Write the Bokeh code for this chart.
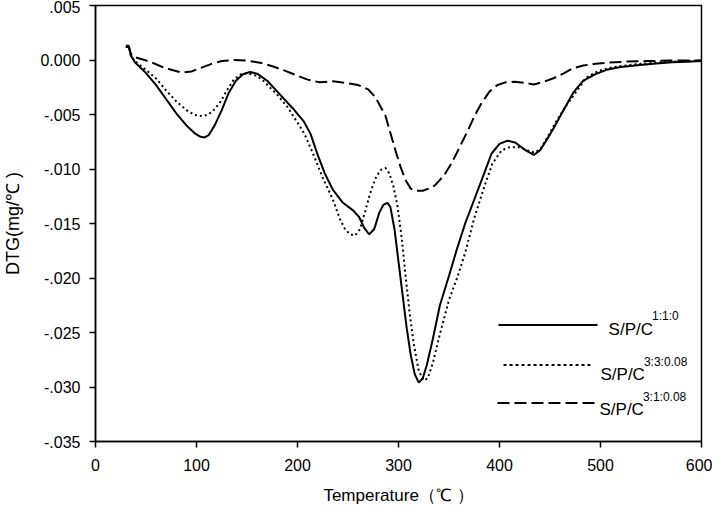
from bokeh.plotting import figure
from bokeh.models import Range1d, FixedTicker, Label
from bokeh.embed import file_html
from bokeh.resources import INLINE

# ---------------- data, DTG in 1e-3 mg/℃ ----------------
t_a = [30, 33, 35, 39, 50, 60, 70, 80, 90, 98, 104, 108, 112, 118, 125, 132, 139, 146,
       153, 160, 170, 180, 195, 206, 213, 220, 227, 235, 245, 255, 261, 266, 271, 276,
       281, 285, 289, 292, 296, 300, 304, 308, 312, 316, 320, 324, 328, 334, 341, 350,
       358, 366, 375, 384, 392, 400, 408, 416, 426, 434, 440, 447, 454, 464, 473, 483,
       495, 506, 520, 539, 555, 571, 585, 600]
dtg_a = [1.3, 1.3, 0.4, -0.2, -1.2, -2.3, -3.6, -4.9, -6.0, -6.7, -7.05, -7.1, -6.9, -6.0,
         -4.6, -3.0, -1.9, -1.3, -1.1, -1.25, -1.9, -2.9, -4.4, -5.6, -6.8, -8.7, -10.4,
         -11.9, -13.1, -13.8, -14.4, -15.4, -16.0, -15.5, -14.0, -13.3, -13.1, -13.5, -15.5,
         -18.5, -21.5, -24.5, -27.0, -28.8, -29.6, -29.2, -28.0, -25.6, -22.5, -19.8, -17.3,
         -15.0, -12.8, -10.6, -8.6, -7.7, -7.4, -7.6, -8.3, -8.7, -8.3, -7.3, -6.2, -4.5,
         -3.0, -1.9, -1.3, -0.9, -0.65, -0.45, -0.32, -0.2, -0.15, -0.1]

t_b = [30, 33, 35, 39, 50, 60, 70, 80, 90, 98, 106, 112, 118, 124, 130, 137, 144, 150,
       158, 165, 180, 190, 199, 207, 215, 225, 235, 242, 247, 252, 257, 262, 267, 272,
       277, 282, 287, 291, 295, 299, 303, 307, 311, 315, 320, 325, 329, 334, 340, 350,
       358, 366, 375, 385, 393, 402, 410, 420, 428, 435, 441, 448, 457, 466, 473, 486,
       498, 510, 525, 540, 555, 570, 585, 600]
dtg_b = [1.2, 1.2, 0.4, -0.1, -0.9, -1.7, -2.8, -3.8, -4.6, -5.05, -5.15, -5.0, -4.5, -3.8,
         -2.8, -1.8, -1.3, -1.2, -1.4, -1.8, -3.2, -4.3, -5.6, -6.8, -8.5, -10.8, -12.8,
         -14.6, -15.5, -16.0, -16.1, -15.5, -13.9, -12.2, -10.9, -10.1, -9.9, -10.4, -11.6,
         -13.4, -16.2, -19.8, -23.2, -26.0, -28.5, -29.4, -29.2, -27.8, -25.5, -22.0, -20.0,
         -17.7, -14.5, -11.6, -9.5, -8.3, -8.0, -8.0, -8.3, -8.5, -8.1, -7.0, -5.5, -4.2,
         -3.3, -1.6, -1.0, -0.7, -0.5, -0.35, -0.25, -0.15, -0.12, -0.08]

t_c = [30, 33, 35, 37, 45, 55, 65, 75, 85, 95, 105, 115, 125, 137, 150, 163, 176, 188,
       199, 210, 222, 235, 248, 260, 270, 277, 287, 297, 302, 307, 312, 318, 324, 330,
       336, 345, 353, 361, 369, 376, 382, 390, 398, 406, 415, 425, 434, 444, 454, 464,
       473, 483, 495, 506, 525, 545, 570, 600]
dtg_c = [1.2, 1.2, 0.6, 0.3, 0.1, -0.2, -0.6, -0.9, -1.15, -1.05, -0.7, -0.35, -0.1, 0.0,
         -0.05, -0.25, -0.6, -1.0, -1.4, -1.8, -2.05, -1.95, -2.1, -2.3, -2.7, -3.4, -5.1,
         -8.3, -9.8, -11.0, -11.8, -12.0, -12.0, -11.8, -11.5, -10.6, -9.4, -7.9, -6.4, -5.0,
         -4.0, -2.9, -2.3, -2.05, -2.0, -2.1, -2.25, -2.0, -1.65, -1.2, -0.75, -0.5, -0.35,
         -0.25, -0.15, -0.1, -0.05, -0.03]

series_names = ["S/P/C", "S/P/C", "S/P/C"]
series_sups = ["1:1:0", "3:3:0.08", "3:1:0.08"]

x_ticks = [0, 100, 200, 300, 400, 500, 600]
y_ticks = [0.005, 0.0, -0.005, -0.010, -0.015, -0.020, -0.025, -0.030, -0.035]
y_tick_labels = [".005", "0.000", "-.005", "-.010", "-.015", "-.020", "-.025", "-.030", "-.035"]

FONT = "Liberation Sans"

p = figure(width=712, height=511, output_backend="svg", toolbar_location=None,
           x_range=Range1d(0, 600), y_range=Range1d(-0.035, 0.005),
           min_border_left=89, min_border_right=11, min_border_top=5, min_border_bottom=70)
p.grid.visible = False
p.outline_line_color = "black"
p.outline_line_width = 1.5
p.background_fill_color = "white"
p.border_fill_color = "white"

for ax in (p.xaxis[0], p.yaxis[0]):
    ax.axis_line_color = "black"
    ax.axis_line_width = 1.5
    ax.major_tick_line_color = "black"
    ax.major_tick_line_width = 1.5
    ax.major_tick_in = 0
    ax.major_tick_out = 6
    ax.minor_tick_line_color = None
    ax.major_label_text_font = FONT
    ax.major_label_text_font_size = "16px"
    ax.major_label_text_color = "black"
    ax.axis_label_text_font = FONT
    ax.axis_label_text_font_style = "normal"
    ax.axis_label_text_color = "black"

p.xaxis.ticker = FixedTicker(ticks=x_ticks)
p.yaxis.ticker = FixedTicker(ticks=y_ticks)
p.yaxis.major_label_overrides = {t: l for t, l in zip(y_ticks, y_tick_labels)}
p.xaxis.major_label_standoff = 11
p.yaxis.major_label_standoff = 9
p.xaxis.axis_label = "Temperature（℃ ）"
p.yaxis.axis_label = "DTG(mg/℃ )"
p.xaxis.axis_label_text_font_size = "17px"
p.yaxis.axis_label_text_font_size = "18px"
p.xaxis.axis_label_standoff = 12
p.yaxis.axis_label_standoff = 14

scale = 1e-3
p.line(t_a, [v * scale for v in dtg_a], line_color="black", line_width=2)
p.line(t_b, [v * scale for v in dtg_b], line_color="black", line_width=2, line_dash="2 3")
p.line(t_c, [v * scale for v in dtg_c], line_color="black", line_width=2, line_dash="12 5")

# ---------------- legend (layout, placed in plot coordinates) ----------------
leg_lines = [((399, 497), -0.02431, "solid"), ((404, 490), -0.02798, "3 3"), ((398, 496), -0.03147, "12 5")]
leg_text = [(508, -0.02477), (500, -0.02881), (499, -0.03211)]
leg_sup = [(551, -0.02345), (543, -0.02767), (542, -0.03088)]

for (xs, yv, dash), (tx, ty), (sx, sy), name, sup in zip(leg_lines, leg_text, leg_sup, series_names, series_sups):
    p.line(list(xs), [yv, yv], line_color="black", line_width=2, line_dash=dash)
    p.add_layout(Label(x=tx, y=ty, text=name, text_font=FONT, text_font_size="17px",
                       text_color="black", text_baseline="alphabetic"))
    p.add_layout(Label(x=sx, y=sy, text=sup, text_font=FONT, text_font_size="12px",
                       text_color="black", text_baseline="alphabetic"))

open("out.html", "w").write(file_html(p, INLINE))
